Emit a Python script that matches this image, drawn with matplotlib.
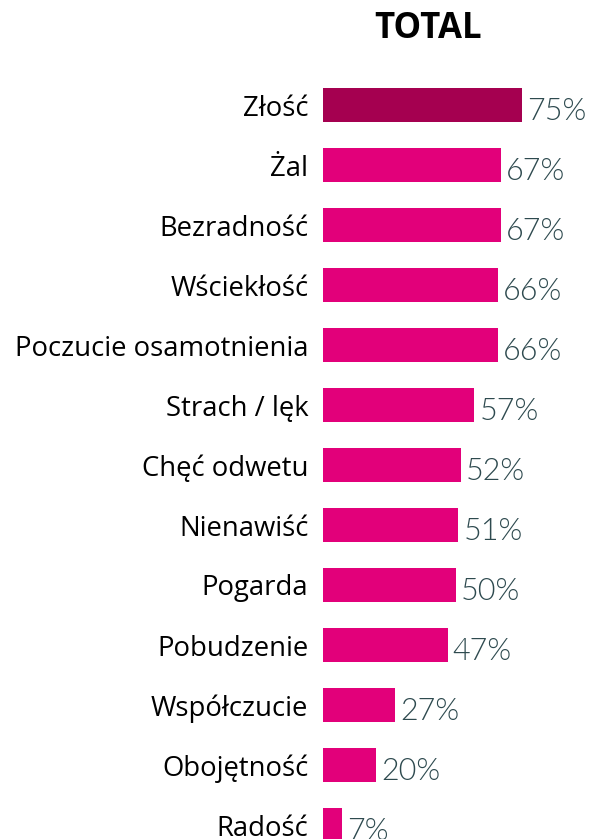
import matplotlib.pyplot as plt
from matplotlib import font_manager

kategorie = ["Złość", "Żal", "Bezradność", "Wściekłość", "Poczucie osamotnienia",
             "Strach / lęk", "Chęć odwetu", "Nienawiść", "Pogarda", "Pobudzenie",
             "Współczucie", "Obojętność", "Radość"]
wartosci = [75, 67, 67, 66, 66, 57, 52, 51, 50, 47, 27, 20, 7]

kolory = ["#A50050"] + ["#E2007A"] * (len(wartosci) - 1)

# Lato Light do etykiet z wartościami (jeśli jest zainstalowany)
sciezki = [f.fname for f in font_manager.fontManager.ttflist if f.fname.endswith("Lato-Light.ttf")]
if sciezki:
    font_wart = font_manager.FontProperties(fname=sciezki[0], size=22)
else:
    font_wart = font_manager.FontProperties(family="Lato", size=22)

fig = plt.figure(figsize=(5.93, 8.39), dpi=100)
ax = fig.add_axes([323 / 593, 0, 270 / 593, 764 / 839])

pozycje = list(range(len(kategorie)))
ax.barh(pozycje, wartosci, height=0.58, color=kolory)

ax.set_xlim(0, 270 / 2.65)
ax.set_ylim(12 + 14 / 60, -0.5)

ax.set_yticks(pozycje)
ax.set_yticklabels(kategorie, fontsize=19.8, family="Open Sans")
ax.tick_params(axis="y", length=0, pad=10.5)
ax.set_xticks([])
for s in ax.spines.values():
    s.set_visible(False)

for i, v in enumerate(wartosci):
    ax.text(v + 2, i + 0.1, "{}%".format(v), va="center", ha="left",
            fontproperties=font_wart, color="#2E4A4F")

fig.text(428 / 593, 1 - 29 / 839, "TOTAL", ha="center", va="center",
         fontsize=25, fontweight="bold", family="Open Sans")

fig.savefig("out.png", dpi=100)
